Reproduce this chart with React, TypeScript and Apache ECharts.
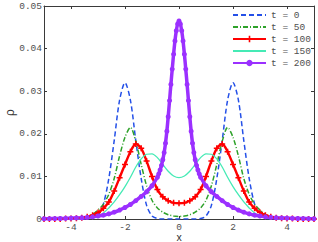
import React, { useEffect, useRef } from "react";
import * as echarts from "echarts";

// x positions (step 0.2) shared by t = 0, 50, 100, 150
const xs = [
  -5, -4.8, -4.6, -4.4, -4.2, -4, -3.8, -3.6, -3.4, -3.2, -3, -2.8, -2.6, -2.4, -2.2, -2,
  -1.8, -1.6, -1.4, -1.2, -1, -0.8, -0.6, -0.4, -0.2, 0, 0.2, 0.4, 0.6, 0.8, 1, 1.2, 1.4,
  1.6, 1.8, 2, 2.2, 2.4, 2.6, 2.8, 3, 3.2, 3.4, 3.6, 3.8, 4, 4.2, 4.4, 4.6, 4.8, 5,
];

const rhoT0 = [
  0, 0, 0, 0, 0, 0, 0, 0, 0, 0.0002, 0.0009, 0.0035, 0.0095, 0.0184, 0.0279, 0.032,
  0.0279, 0.0184, 0.0095, 0.0032, 0.0007, 0.0001, 0, 0, 0, 0, 0, 0, 0, 0.0001, 0.0007, 0.0032, 0.0095,
  0.0184, 0.0279, 0.032, 0.0279, 0.0184, 0.0095, 0.0035, 0.0009, 0.0002, 0, 0, 0, 0, 0, 0, 0, 0, 0,
];

const rhoT50 = [
  0, 0, 0, 0, 0, 0, 0.0001, 0.0002, 0.0005, 0.0011, 0.0021, 0.0035, 0.0058, 0.0095, 0.0148, 0.0192,
  0.0215, 0.0182, 0.0128, 0.0078, 0.0044, 0.0026, 0.0016, 0.001, 0.0007, 0.0006, 0.0007, 0.001, 0.0016, 0.0026, 0.0044, 0.0078, 0.0128,
  0.0182, 0.0215, 0.0192, 0.0148, 0.0095, 0.0058, 0.0035, 0.0021, 0.0011, 0.0005, 0.0002, 0.0001, 0, 0, 0, 0, 0, 0,
];

const rhoT100 = [
  0, 0, 0, 0, 0.0001, 0.0001, 0.0002, 0.0003, 0.0005, 0.0009, 0.0015, 0.0025, 0.004, 0.0066, 0.0097, 0.0128,
  0.0158, 0.0176, 0.0166, 0.0136, 0.01, 0.0069, 0.0052, 0.0043, 0.0038, 0.0037, 0.0038, 0.0043, 0.0052, 0.0069, 0.01, 0.0136, 0.0166,
  0.0176, 0.0158, 0.0128, 0.0097, 0.0066, 0.004, 0.0025, 0.0015, 0.0009, 0.0005, 0.0003, 0.0002, 0.0001, 0.0001, 0, 0, 0, 0,
];

const rhoT150 = [
  0, 0, 0, 0, 0, 0, 0, 0.0001, 0.0002, 0.0003, 0.0007, 0.0014, 0.0026, 0.004, 0.0057, 0.0076,
  0.0098, 0.0122, 0.0141, 0.0152, 0.0153, 0.0144, 0.0128, 0.0112, 0.0101, 0.0097, 0.0101, 0.0112, 0.0128, 0.0144, 0.0153, 0.0152, 0.0141,
  0.0122, 0.0098, 0.0076, 0.0057, 0.004, 0.0026, 0.0014, 0.0007, 0.0003, 0.0002, 0.0001, 0, 0, 0, 0, 0, 0, 0,
];

// t = 200 sampled more densely near the centre
const xs200 = [
  -5, -4.8, -4.6, -4.4, -4.2, -4, -3.8, -3.6, -3.4, -3.2, -3, -2.8, -2.6, -2.4, -2.2, -2, -1.8, -1.6, -1.4, -1.2, -1,
  -0.8, -0.75, -0.7, -0.65, -0.6, -0.55, -0.5, -0.45, -0.4, -0.35, -0.3, -0.25, -0.2, -0.15, -0.1, -0.05, 0,
  0.05, 0.1, 0.15, 0.2, 0.25, 0.3, 0.35, 0.4, 0.45, 0.5, 0.55, 0.6, 0.65, 0.7, 0.75, 0.8,
  1, 1.2, 1.4, 1.6, 1.8, 2, 2.2, 2.4, 2.6, 2.8, 3, 3.2, 3.4, 3.6, 3.8, 4, 4.2, 4.4, 4.6, 4.8, 5,
];

const rhoT200 = [
  0.00006, 0.00008, 0.0001, 0.00012, 0.00015, 0.0002, 0.00025, 0.0003, 0.0004, 0.0005, 0.0007, 0.0009, 0.0012, 0.0016, 0.0021, 0.0027, 0.0034, 0.0043, 0.0053, 0.0064, 0.0078,
  0.0098, 0.0106, 0.0115, 0.0126, 0.0139, 0.0156, 0.0178, 0.0206, 0.024, 0.0278, 0.0316, 0.0352, 0.0387, 0.0418, 0.0442, 0.0458, 0.0465,
  0.0458, 0.0442, 0.0418, 0.0387, 0.0352, 0.0316, 0.0278, 0.024, 0.0206, 0.0178, 0.0156, 0.0139, 0.0126, 0.0115, 0.0106, 0.0098,
  0.0078, 0.0064, 0.0053, 0.0043, 0.0034, 0.0027, 0.0021, 0.0016, 0.0012, 0.0009, 0.0007, 0.0005, 0.0004, 0.0003, 0.00025, 0.0002, 0.00015, 0.00012, 0.0001, 0.00008, 0.00006,
];

const seriesNames = ["t = 0", "t = 50", "t = 100", "t = 150", "t = 200"];
const xTicks = [-4, -2, 0, 2, 4];

const pair = (x: number[], y: number[]) => x.map((v, i) => [v, y[i]]);

const MONO = "'Liberation Mono', 'DejaVu Sans Mono', monospace";
const AXIS_COLOR = "#3a3a3a";
const LABEL_COLOR = "#505050";
// zero-area symbol: nothing visible, but a valid bounding box for the legend icon
const NO_SYMBOL = "path://M0,0L10,10";

export default function App() {
  const ref = useRef<HTMLDivElement>(null);
  useEffect(() => {
    if (!ref.current) return;
    const chart = echarts.init(ref.current, undefined, { renderer: "svg" });
    const axisLine = { show: true, onZero: false, lineStyle: { color: AXIS_COLOR, width: 1 } };
    const tick = { show: true, inside: true, length: 3, lineStyle: { color: AXIS_COLOR, width: 1 } };
    chart.setOption({
      animation: false,
      backgroundColor: "#ffffff",
      grid: { left: 44, right: 4, top: 6, bottom: 23, containLabel: false, outerBoundsMode: "none" },
      legend: {
        data: seriesNames,
        orient: "vertical",
        left: 232,
        top: 10,
        itemWidth: 33,
        itemHeight: 8,
        itemGap: 2,
        padding: 0,
        selectedMode: false,
        textStyle: { fontFamily: MONO, fontSize: 9.5, color: LABEL_COLOR },
      },
      xAxis: [
        {
          type: "value",
          min: -5,
          max: 5,
          position: "bottom",
          axisLine,
          axisTick: { ...tick, customValues: xTicks },
          axisLabel: { customValues: xTicks, margin: 3, fontFamily: MONO, fontSize: 9.5, color: LABEL_COLOR },
          splitLine: { show: false },
          name: "x",
          nameLocation: "middle",
          nameGap: 12.5,
          nameMoveOverlap: false,
          nameTextStyle: { fontFamily: "'Liberation Sans', sans-serif", fontSize: 10.5, color: "#333" },
        },
        {
          type: "value",
          min: -5,
          max: 5,
          position: "top",
          axisLine,
          axisTick: { ...tick, customValues: xTicks },
          axisLabel: { show: false },
          splitLine: { show: false },
        },
      ],
      yAxis: [
        {
          type: "value",
          min: 0,
          max: 0.05,
          interval: 0.01,
          position: "left",
          axisLine,
          axisTick: tick,
          axisLabel: {
            margin: 2,
            fontFamily: MONO,
            fontSize: 9.5,
            color: LABEL_COLOR,
            formatter: (v: number) => (v === 0 ? "0" : v.toFixed(2)),
          },
          splitLine: { show: false },
          name: "ρ",
          nameLocation: "middle",
          nameGap: 28,
          nameRotate: 90,
          nameMoveOverlap: false,
          nameTextStyle: { fontFamily: "'Liberation Sans', sans-serif", fontSize: 12, color: "#333" },
        },
        {
          type: "value",
          min: 0,
          max: 0.05,
          interval: 0.01,
          position: "right",
          axisLine,
          axisTick: tick,
          axisLabel: { show: false },
          splitLine: { show: false },
        },
      ],
      series: [
        {
          name: seriesNames[0],
          type: "line",
          data: pair(xs, rhoT0),
          smooth: 0.3,
          symbol: NO_SYMBOL,
          showSymbol: false,
          lineStyle: { color: "#2450e8", width: 1.5, type: [5, 3] },
          itemStyle: { color: "#2450e8", borderWidth: 0 },
        },
        {
          name: seriesNames[1],
          type: "line",
          data: pair(xs, rhoT50),
          smooth: 0.3,
          symbol: NO_SYMBOL,
          showSymbol: false,
          lineStyle: { color: "#2ea22a", width: 1.5, type: [5, 2, 1, 2] },
          itemStyle: { color: "#2ea22a", borderWidth: 0 },
        },
        {
          name: seriesNames[2],
          type: "line",
          data: pair(xs, rhoT100),
          smooth: 0.3,
          symbol: "path://M3,0H5V3H8V5H5V8H3V5H0V3H3Z",
          symbolSize: 6,
          showAllSymbol: true,
          lineStyle: { color: "#ff0000", width: 2.4 },
          itemStyle: { color: "#ff0000" },
        },
        {
          name: seriesNames[3],
          type: "line",
          data: pair(xs, rhoT150),
          smooth: 0.3,
          symbol: NO_SYMBOL,
          showSymbol: false,
          lineStyle: { color: "#45eab5", width: 1.3 },
          itemStyle: { color: "#45eab5", borderWidth: 0 },
        },
        {
          name: seriesNames[4],
          type: "line",
          data: pair(xs200, rhoT200),
          smooth: 0.3,
          symbol: "circle",
          symbolSize: 5,
          showAllSymbol: true,
          lineStyle: { color: "#9b30ff", width: 3.5 },
          itemStyle: { color: "#9b30ff" },
        },
      ],
    });
    return () => chart.dispose();
  }, []);
  return (
    <div
      ref={ref}
      style={{ position: "fixed", left: 0, top: 0, width: 318, height: 242, background: "#fff" }}
    />
  );
}
